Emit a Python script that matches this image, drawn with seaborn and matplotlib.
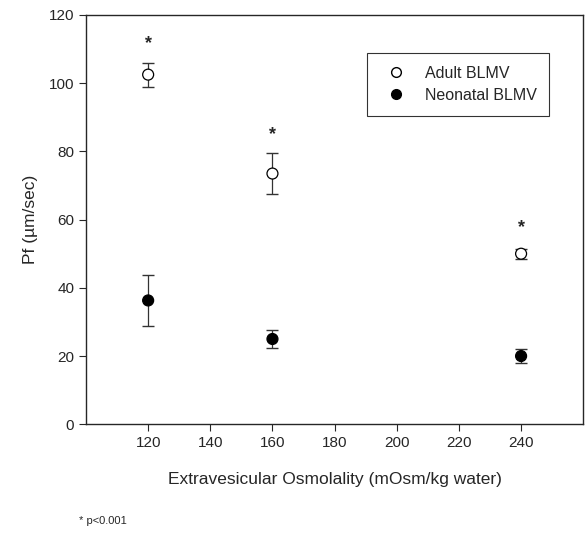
import pandas as pd
import matplotlib.pyplot as plt
import seaborn as sns

osmolality = [120, 160, 240]
adult_pf = [102.5, 73.5, 50.0]
adult_err = [3.5, 6.0, 1.5]
neonatal_pf = [36.3, 25.0, 20.0]
neonatal_err = [7.6, 2.7, 2.0]
star_y = [111.6, 85.0, 57.6]


def plot_data():
  sns.set_style('ticks')
  plt.rcParams['font.family'] = ['Liberation Sans', 'DejaVu Sans']

  df = pd.DataFrame({
    'x': osmolality * 2,
    'y': adult_pf + neonatal_pf,
    'err': adult_err + neonatal_err,
    'group': ['Adult BLMV'] * 3 + ['Neonatal BLMV'] * 3,
  })

  fig = plt.figure(figsize=(5.85, 5.33), dpi=100)
  ax = fig.add_axes([0.147, 0.204, 0.850, 0.768])

  ax.errorbar(df['x'], df['y'], yerr=df['err'], fmt='none', ecolor='#333333',
              elinewidth=0.9, capsize=4, capthick=1.0, zorder=2)
  sns.scatterplot(data=df, x='x', y='y', hue='group',
                  palette={'Adult BLMV': 'white', 'Neonatal BLMV': 'black'},
                  edgecolor='black', linewidth=0.9, s=62, zorder=3, ax=ax,
                  legend=False)

  for x, y in zip(osmolality, star_y):
    ax.text(x, y, '*', ha='center', va='center', fontsize=13, fontweight='bold')

  ax.set_xlim(100, 260)
  ax.set_ylim(0, 120)
  ax.set_xticks(range(120, 241, 20))
  ax.set_yticks(range(0, 121, 20))
  ax.tick_params(labelsize=11, direction='out', length=5)
  for s in ax.spines.values():
    s.set_visible(True)
    s.set_linewidth(1.0)

  ax.set_xlabel('Extravesicular Osmolality (mOsm/kg water)', fontsize=12.5, labelpad=16)
  ax.set_ylabel('Pf (µm/sec)', fontsize=12.5, labelpad=8)

  h1 = plt.Line2D([], [], ls='none', marker='o', mfc='white', mec='black', ms=7)
  h2 = plt.Line2D([], [], ls='none', marker='o', mfc='black', mec='black', ms=7)
  leg = ax.legend([h1, h2], ['Adult BLMV', 'Neonatal BLMV'], loc='upper right',
                  bbox_to_anchor=(0.932, 0.907), borderaxespad=0, fontsize=11.5,
                  frameon=True, fancybox=False, edgecolor='black',
                  handletextpad=0.8, borderpad=0.8, labelspacing=0.45)
  leg.get_frame().set_linewidth(0.8)

  fig.text(0.135, 0.016, '* p<0.001', fontsize=8)

  fig.savefig('out.png', dpi=100)


def main():
  plot_data()


if __name__ == '__main__':
  main()
